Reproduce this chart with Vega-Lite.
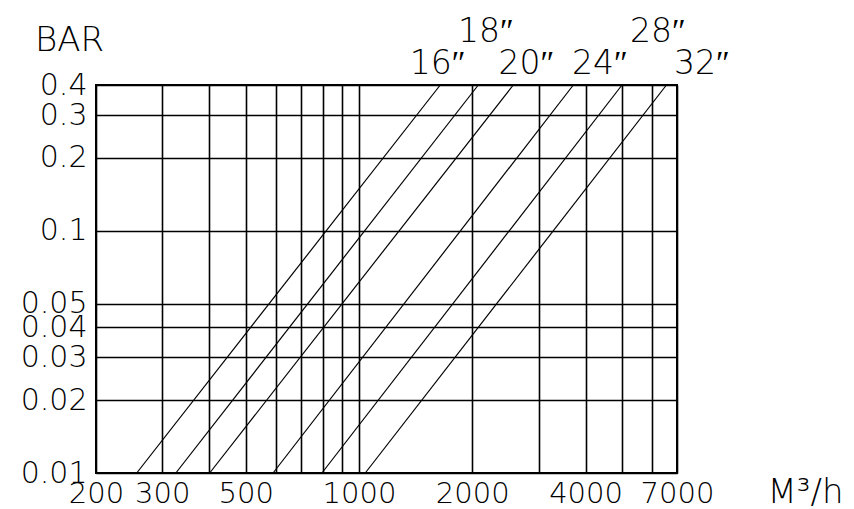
{
  "$schema": "https://vega.github.io/schema/vega-lite/v6.json",
  "width": 581,
  "height": 388,
  "autosize": {"type": "none"},
  "padding": {"left": 96, "top": 85, "right": 177, "bottom": 36},
  "background": "white",
  "config": {
    "view": {"stroke": "black", "strokeWidth": 2},
    "font": "DejaVu Sans"
  },
  "datasets": {
    "lines": [
      {"size": "16″", "q": 256.6, "p": 0.01}, {"size": "16″", "q": 1644, "p": 0.4},
      {"size": "18″", "q": 326, "p": 0.01}, {"size": "18″", "q": 2075, "p": 0.4},
      {"size": "20″", "q": 401, "p": 0.01}, {"size": "20″", "q": 2570, "p": 0.4},
      {"size": "24″", "q": 591, "p": 0.01}, {"size": "24″", "q": 3712, "p": 0.4},
      {"size": "28″", "q": 797, "p": 0.01}, {"size": "28″", "q": 5000, "p": 0.4},
      {"size": "32″", "q": 1039, "p": 0.01}, {"size": "32″", "q": 6562, "p": 0.4}
    ],
    "labels": [
      {"text": "16″", "q": 1619, "p": 0.487},
      {"text": "18″", "q": 2172, "p": 0.665},
      {"text": "20″", "q": 2784, "p": 0.487},
      {"text": "24″", "q": 4366, "p": 0.487},
      {"text": "28″", "q": 6228, "p": 0.665},
      {"text": "32″", "q": 8155, "p": 0.487}
    ]
  },
  "layer": [
    {
      "data": {"name": "lines"},
      "mark": {"type": "line", "color": "black", "strokeWidth": 1.2},
      "encoding": {
        "x": {
          "field": "q", "type": "quantitative",
          "scale": {"type": "log", "domain": [200, 7000], "nice": false},
          "axis": {
            "values": [200, 300, 400, 500, 600, 700, 800, 900, 1000, 2000, 3000, 4000, 5000, 6000, 7000],
            "labelExpr": "(datum.value == 200 || datum.value == 300 || datum.value == 500 || datum.value == 1000 || datum.value == 2000 || datum.value == 4000 || datum.value == 7000) ? datum.label : ''",
            "format": "d",
            "grid": true, "gridColor": "black", "gridOpacity": 1, "gridWidth": 1.6,
            "domain": false, "ticks": false,
            "labelPadding": 6, "labelFont": "DejaVu Sans", "labelFontSize": 29, "labelFontWeight": 200,
            "labelColor": "black", "labelOverlap": false, "labelFlush": false, "labelBaseline": "top",
            "title": "M³/h", "titleX": 709, "titleY": 19, "titleAlign": "center", "titleBaseline": "middle",
            "titleAngle": 0, "titleFont": "DejaVu Sans", "titleFontSize": 34, "titleFontWeight": 200, "titleColor": "black"
          }
        },
        "y": {
          "field": "p", "type": "quantitative",
          "scale": {"type": "log", "domain": [0.01, 0.4], "nice": false},
          "axis": {
            "values": [0.01, 0.02, 0.03, 0.04, 0.05, 0.1, 0.2, 0.3, 0.4],
            "format": ".2~f",
            "grid": true, "gridColor": "black", "gridOpacity": 1, "gridWidth": 1.6,
            "domain": false, "ticks": false,
            "labelPadding": 9, "labelFont": "DejaVu Sans", "labelFontSize": 30, "labelFontWeight": 200,
            "labelColor": "black", "labelOverlap": false, "labelFlush": false, "labelBaseline": "middle",
            "title": "BAR", "titleX": -27, "titleY": -45, "titleAlign": "center", "titleBaseline": "middle",
            "titleAngle": 0, "titleFont": "DejaVu Sans", "titleFontSize": 34, "titleFontWeight": 200, "titleColor": "black"
          }
        },
        "detail": {"field": "size", "type": "nominal"}
      }
    },
    {
      "data": {"name": "labels"},
      "mark": {"type": "text", "font": "DejaVu Sans", "fontSize": 33, "fontWeight": 200, "color": "black", "align": "center", "baseline": "middle"},
      "encoding": {
        "x": {"field": "q", "type": "quantitative"},
        "y": {"field": "p", "type": "quantitative"},
        "text": {"field": "text", "type": "nominal"}
      }
    }
  ]
}
